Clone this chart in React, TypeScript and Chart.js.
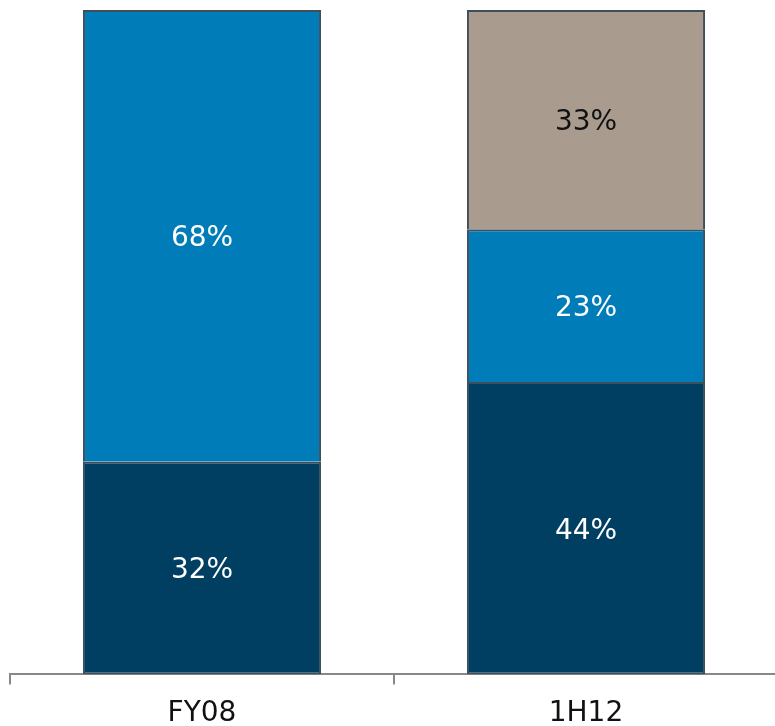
import React, { useEffect, useRef } from "react";
import { Chart, registerables } from "chart.js";

Chart.register(...registerables);

const categories = ["FY08", "1H12"];
const seriesBottom = [32, 44];
const seriesMiddle = [68, 23];
const seriesTop = [null, 33];
const seriesNames = ["Bottom", "Middle", "Top"];

const labelPlugin = {
  id: "barLabels",
  afterDatasetsDraw(chart: any) {
    const ctx = chart.ctx;
    ctx.save();
    ctx.font = "28px 'DejaVu Sans'";
    ctx.textAlign = "center";
    ctx.textBaseline = "middle";
    chart.data.datasets.forEach((ds: any, i: number) => {
      const meta = chart.getDatasetMeta(i);
      meta.data.forEach((bar: any, j: number) => {
        const v = ds.data[j];
        if (v === null || v === undefined) return;
        const { x, y, base } = bar.getProps(["x", "y", "base"], true);
        ctx.fillStyle = ds.labelColor;
        ctx.fillText(v + "%", x, (y + base) / 2 + 3);
      });
    });
    ctx.restore();
  },
};

export default function App() {
  const ref = useRef<HTMLCanvasElement>(null);
  useEffect(() => {
    const canvas = ref.current!;
    const border = "#3E4E5B";
    const chart = new Chart(canvas, {
      type: "bar",
      data: {
        labels: categories,
        datasets: [
          { label: seriesNames[0], data: seriesBottom, backgroundColor: "#003F62", labelColor: "#ffffff", borderSkipped: false } as any,
          { label: seriesNames[1], data: seriesMiddle, backgroundColor: "#007CB9", labelColor: "#ffffff", borderSkipped: "start" } as any,
          { label: seriesNames[2], data: seriesTop, backgroundColor: "#A99C8F", labelColor: "#111111", borderSkipped: "start" } as any,
        ].map((d: any) => ({
          ...d,
          borderColor: border,
          borderWidth: 2,
          categoryPercentage: 1,
          barPercentage: 0.62,
        })),
      },
      options: {
        responsive: false,
        animation: false,
        devicePixelRatio: 1,
        layout: { padding: { top: 10, left: 10, right: 12, bottom: 0 } },
        plugins: { legend: { display: false }, tooltip: { enabled: false } },
        scales: {
          x: {
            stacked: true,
            grid: {
              display: true,
              drawOnChartArea: false,
              drawTicks: true,
              tickLength: 10,
              color: "#888888",
              lineWidth: 2,
              offset: true,
            },
            border: { display: true, color: "#888888", width: 2 },
            ticks: {
              color: "#111111",
              font: { family: "'DejaVu Sans'", size: 28 },
              padding: 13,
            },
          },
          y: {
            stacked: true,
            display: false,
            min: 0,
            max: 100,
          },
        },
      },
      plugins: [labelPlugin],
    });
    return () => chart.destroy();
  }, []);
  return (
    <div style={{ position: "fixed", left: 0, top: 0, width: 775, height: 726, overflow: "hidden", background: "#fff" }}>
      <canvas ref={ref} width={790} height={744} style={{ width: 790, height: 744 }} />
    </div>
  );
}
